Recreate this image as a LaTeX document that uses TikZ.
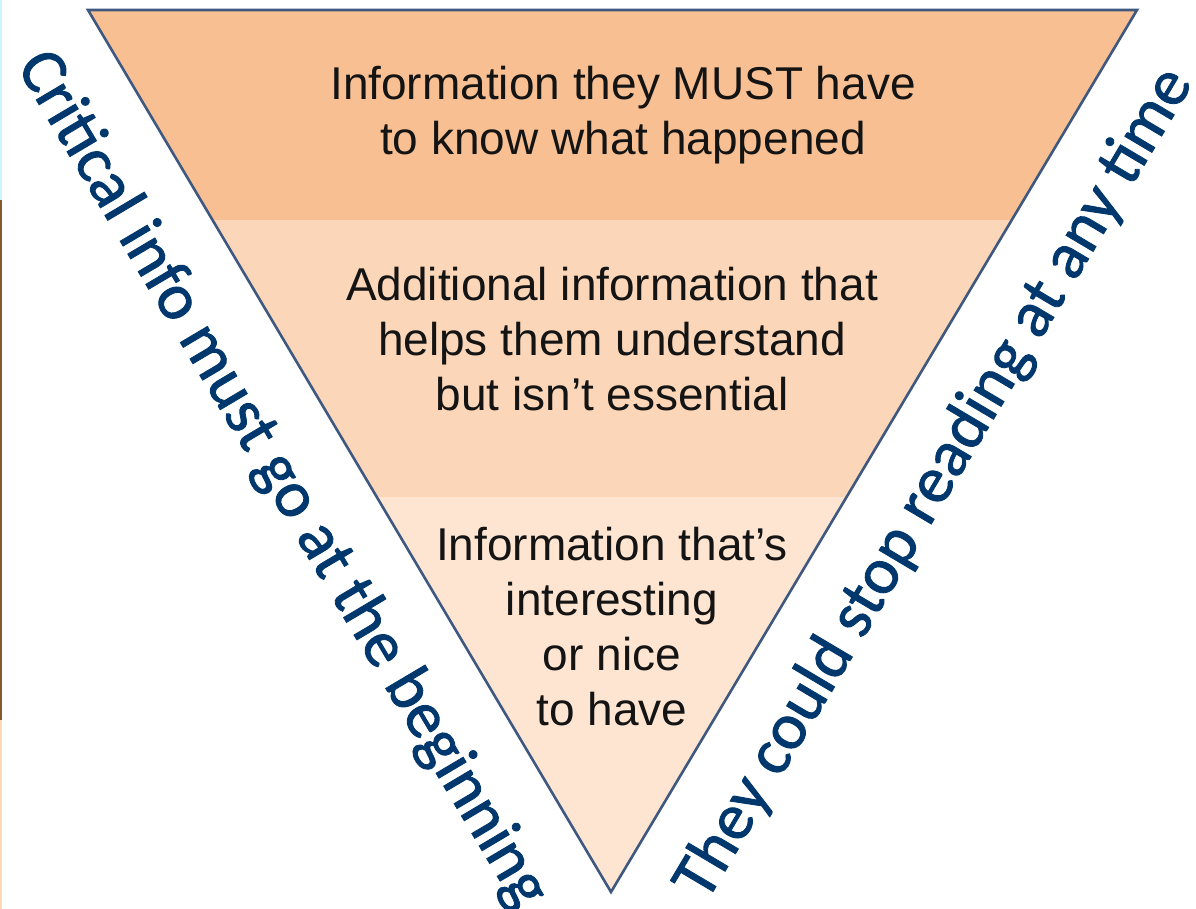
\documentclass[tikz,border=0pt]{standalone}
\usepackage{fontspec}
\setmainfont{Liberation Sans}
\newfontfamily\sidefont[FakeBold=1.3]{Carlito}
\begin{document}
\begin{tikzpicture}[x=1pt,y=-1pt,
  bodytext/.style={align=center,text=black!92,font=\fontsize{46}{55}\selectfont,inner sep=0pt},
  sidetext/.style={text=navy,font=\sidefont\fontsize{66}{68}\selectfont,inner sep=0pt},
  edge/.style={draw=slate,line width=2.6pt,line join=miter}]
\definecolor{navy}{RGB}{0,56,110}
\definecolor{slate}{RGB}{62,88,128}
\definecolor{bandA}{RGB}{248,192,146}
\definecolor{bandB}{RGB}{251,214,184}
\definecolor{bandC}{RGB}{253,229,210}
\useasboundingbox (0,0) rectangle (1196,909);
\fill[white] (0,0) rectangle (1196,909);
% thin strip along the left border
\fill[blue!20!cyan!20] (0,0) rectangle (2,200);
\fill[brown!70!black] (0,200) rectangle (2,720);
\fill[orange!30] (0,720) rectangle (2,909);
% triangle corners
\coordinate (tl) at (88,10);
\coordinate (tr) at (1137,10);
\coordinate (ap) at (611,892);
% bands
\begin{scope}
  \clip (tl) -- (tr) -- (ap) -- cycle;
  \fill[bandA] (0,0) rectangle (1196,220);
  \fill[bandB] (0,220) rectangle (1196,497);
  \fill[bandC] (0,497) rectangle (1196,909);
\end{scope}
\draw[edge] (tl) -- (tr) -- (ap) -- cycle;
% band texts
\node[bodytext] (must) at (623,115) {Information they MUST have\\to know what happened};
\node[bodytext] (extra) at (612,339) {Additional information that\\helps them understand\\but isn’t essential};
\node[bodytext] (nice) at (612,627) {Information that’s\\interesting\\or nice\\to have};
% side captions
\node[sidetext,rotate=-59.3] (crit) at (282,480) {Critical info must go at the beginning};
\node[sidetext,rotate=59.3] (stop) at (935,484) {They could stop reading at any time};
\end{tikzpicture}
\end{document}
